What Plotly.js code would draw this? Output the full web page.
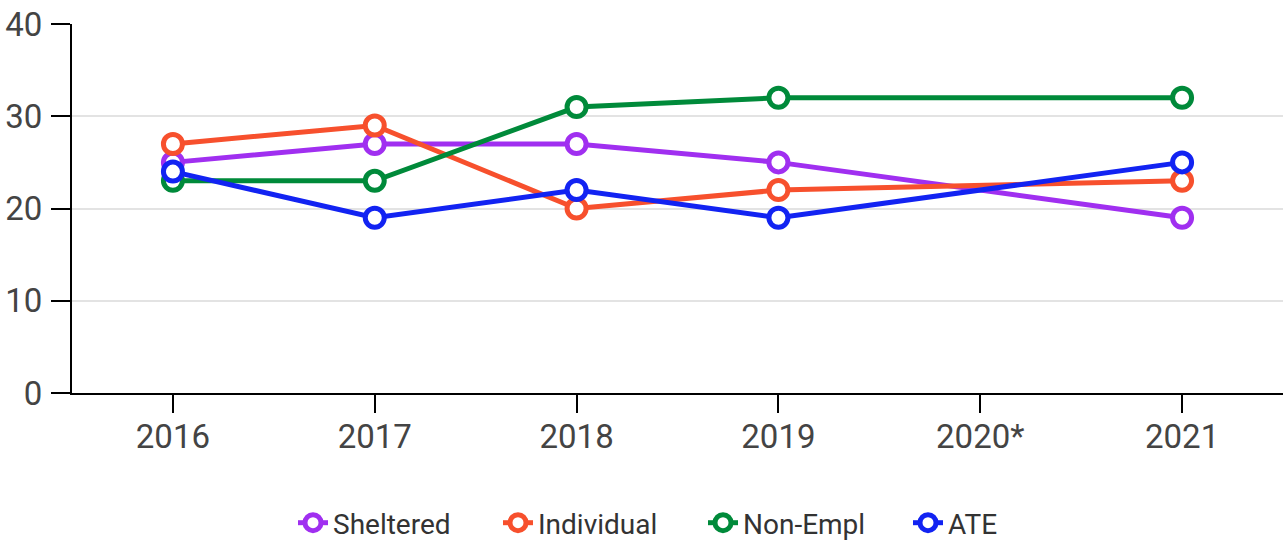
<!DOCTYPE html>
<html><head><meta charset="utf-8">
<script src="https://cdn.plot.ly/plotly-3.0.1.min.js"></script>
<style>html,body{margin:0;padding:0;background:#fff}#chart{width:1283px;height:540px}</style>
</head><body><div id="chart"></div>
<script>
const years = ["2016","2017","2018","2019","2020*","2021"];
const sheltered = [25, 27, 27, 25, null, 19];
const individual = [27, 29, 20, 22, null, 23];
const nonEmpl = [23, 23, 31, 32, null, 32];
const ate = [24, 19, 22, 19, null, 25];
const seriesNames = ["Sheltered", "Individual", "Non-Empl", "ATE"];
const seriesColors = ["#a02ff0", "#f7502d", "#008a3a", "#1223f2"];
const seriesData = [sheltered, individual, nonEmpl, ate];

const traces = seriesData.map((d, i) => ({
  type: "scatter", mode: "lines+markers", x: years, y: d, name: seriesNames[i],
  connectgaps: true,
  line: {color: seriesColors[i], width: 5},
  marker: {symbol: "circle", size: 19, color: "#fff", line: {color: seriesColors[i], width: 5}}
}));

const layout = {
  width: 1283, height: 540,
  margin: {l: 72, r: 0, t: 24, b: 147, autoexpand: false},
  paper_bgcolor: "#fff", plot_bgcolor: "#fff",
  font: {family: "Roboto, sans-serif", color: "#444"},
  showlegend: true,
  legend: {orientation: "h", xref: "container", x: 293/1283, xanchor: "left",
           yref: "container", y: 17/540, yanchor: "middle",
           entrywidth: 160, entrywidthmode: "pixels",
           font: {size: 28, color: "#333"}},
  xaxis: {type: "category", range: [-0.5, 5.5], showgrid: false, zeroline: false,
          showline: true, linecolor: "#000", linewidth: 2,
          ticks: "outside", ticklen: 18, tickwidth: 2, tickcolor: "#000",
          tickfont: {size: 33, color: "#444"}, ticklabelstandoff: -5},
  yaxis: {range: [0, 40], dtick: 10, showgrid: true, gridcolor: "#e3e3e3", gridwidth: 2,
          zeroline: false, showline: true, linecolor: "#000", linewidth: 2,
          ticks: "outside", ticklen: 19, tickwidth: 2, tickcolor: "#000",
          tickfont: {size: 33, color: "#444"}, ticklabelstandoff: 2}
};
Plotly.newPlot("chart", traces, layout, {displayModeBar: false, staticPlot: true});
</script></body></html>
